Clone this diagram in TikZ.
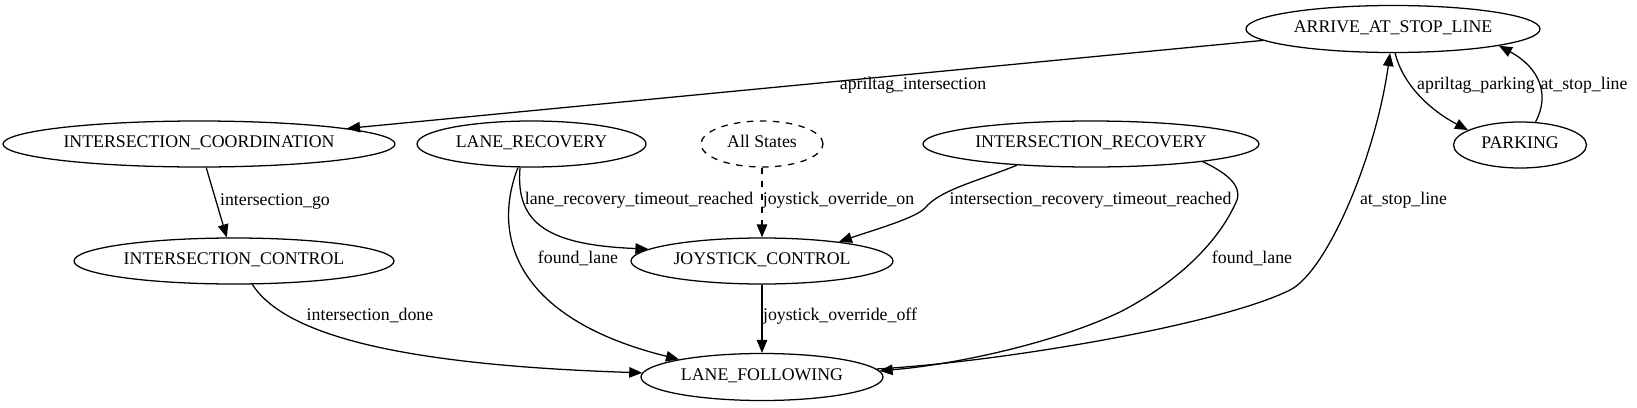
\documentclass[tikz,border=0pt]{standalone}
\usepackage{fontspec}
\setmainfont{Liberation Serif}
\usetikzlibrary{arrows.meta,shapes.geometric}
\begin{document}
\begin{tikzpicture}[x=1pt,y=-1pt,
  state/.style={ellipse, draw, line width=1.27pt, inner sep=0pt, minimum height=46pt,
    font=\fontsize{17.8}{20}\selectfont, text height=0.66em, text depth=0pt},
  lbl/.style={inner sep=0pt, font=\fontsize{17.8}{20}\selectfont, text height=0.68em, text depth=0.2em},
  trans/.style={draw, line width=1.27pt, -{Triangle[length=13pt,width=10.5pt]}},
  dashline/.style={dash pattern=on 6.5pt off 6.5pt}
]
\useasboundingbox (0,0) rectangle (1637,407);

% states
\node[state, minimum width=294pt, minimum height=47pt] (ASL) at (1393,29) {ARRIVE\_AT\_STOP\_LINE};
\node[state, minimum width=392pt] (IC) at (199,144) {INTERSECTION\_COORDINATION};
\node[state, minimum width=229pt] (LR) at (531.5,144) {LANE\_RECOVERY};
\node[state, dashline, minimum width=122pt] (AS) at (762,144) {All States};
\node[state, minimum width=336pt] (IR) at (1091,144) {INTERSECTION\_RECOVERY};
\node[state, minimum width=133pt] (PK) at (1520,145) {PARKING};
\node[state, minimum width=320pt] (ICT) at (234,261) {INTERSECTION\_CONTROL};
\node[state, minimum width=262pt] (JC) at (762,261) {JOYSTICK\_CONTROL};
\node[state, minimum width=242pt, minimum height=47pt] (LF) at (762,377) {LANE\_FOLLOWING};

% transitions
\draw[trans] (ASL.185.8) -- (IC.6.6);
\draw[trans] (IC.-73) -- (ICT.107.4);
\draw[trans] (ICT.-52) .. controls (285,335) and (400,365) .. (LF.178);
\draw[trans] (LR.-116) .. controls (515,225) and (550,245) .. (JC.174.6);
\draw[trans] (LR.-120) .. controls (490,240) and (520,320) .. (LF.168.7);
\draw[trans, dashline] (AS.south) -- (JC.north);
\draw[trans] (JC.south) -- (LF.north);
\draw[trans] (IR.-164) .. controls (975,182) and (940,190) .. (925,208)
  .. controls (915,218) and (880,228) .. (JC.14);
\draw[trans] (IR.-9.4) .. controls (1225,172) and (1242,185) .. (1237,200)
  .. controls (1220,240) and (1180,281) .. (1120,312)
  .. controls (1050,345) and (950,365) .. (LF.3);
\draw[trans] (LF.4) .. controls (1000,362) and (1220,325) .. (1290,290)
  .. controls (1326,272) and (1375,160) .. (ASL.-97);
\draw[trans] (ASL.-85) .. controls (1403,85) and (1430,110) .. (PK.164);
\draw[trans] (PK.56.2) .. controls (1550,95) and (1540,68) .. (ASL.-9.3);

% labels
\node[lbl] (l1) at (913,87) {apriltag\_intersection};
\node[lbl] (l2) at (275,203) {intersection\_go};
\node[lbl] (l3) at (370,318) {intersection\_done};
\node[lbl] (l4) at (639,202) {lane\_recovery\_timeout\_reached};
\node[lbl] (l5) at (838.5,202) {joystick\_override\_on};
\node[lbl] (l6) at (578,261) {found\_lane};
\node[lbl] (l7) at (840,318) {joystick\_override\_off};
\node[lbl] (l8) at (1090.5,202) {intersection\_recovery\_timeout\_reached};
\node[lbl] (l9) at (1252,261) {found\_lane};
\node[lbl] (l10) at (1403.5,202) {at\_stop\_line};
\node[lbl] (l11) at (1476,87) {apriltag\_parking};
\node[lbl] (l12) at (1584,87) {at\_stop\_line};
\end{tikzpicture}
\end{document}
